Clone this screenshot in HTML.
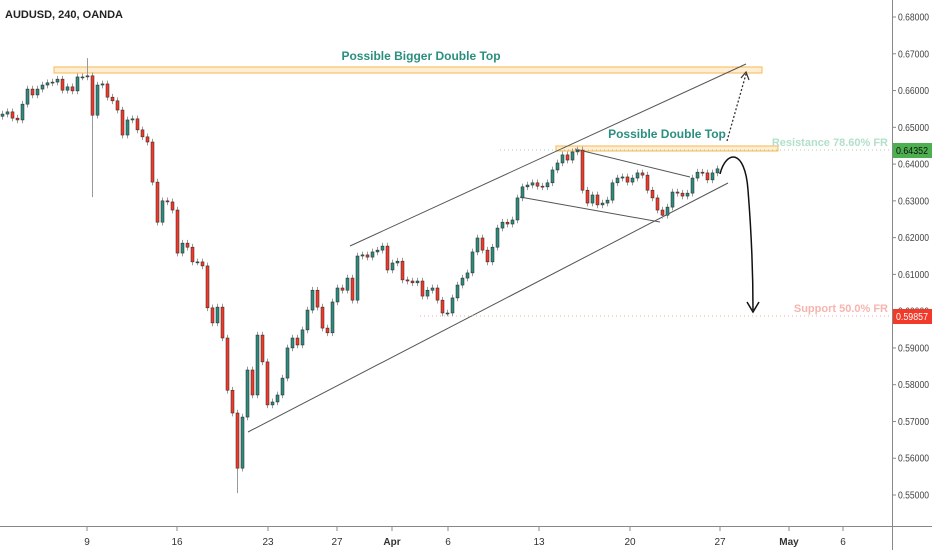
<!DOCTYPE html>
<html><head><meta charset="utf-8"><style>
html,body{margin:0;padding:0;background:#fff;}
svg{display:block;font-family:"Liberation Sans",sans-serif;}
</style></head><body>
<svg id="chart" width="932" height="550" viewBox="0 0 932 550">
<rect x="0" y="0" width="932" height="550" fill="#fff"/>
<text x="5" y="18" font-size="11" font-weight="bold" fill="#222">AUDUSD, 240, OANDA</text>
<g id="yaxis"></g>
<g id="xaxis"></g>
<g id="annot">
  <rect x="54" y="67" width="708" height="6" fill="rgba(255,205,130,0.35)" stroke="#f7b850" stroke-width="1"/>
  <rect x="556" y="146" width="222" height="5" fill="rgba(255,205,130,0.35)" stroke="#f7b850" stroke-width="1"/>
  <text x="421" y="60" font-size="12" font-weight="bold" fill="#2a8f7e" text-anchor="middle">Possible Bigger Double Top</text>
  <text x="667" y="138" font-size="12" font-weight="bold" fill="#2a8f7e" text-anchor="middle">Possible Double Top</text>
  <line x1="350" y1="246" x2="746" y2="64" stroke="#555" stroke-width="1"/>
  <line x1="248" y1="432" x2="728" y2="183" stroke="#555" stroke-width="1"/>
  <line x1="575" y1="149" x2="690" y2="177" stroke="#555" stroke-width="1"/>
  <line x1="520" y1="197" x2="660" y2="222" stroke="#555" stroke-width="1"/>
  <line x1="500" y1="150" x2="892" y2="150" stroke="#9bd6bb" stroke-width="1" stroke-dasharray="1,3"/>
  <text x="888" y="146" font-size="11" font-weight="bold" fill="#b3e0ca" text-anchor="end">Resistance 78.60% FR</text>
  <line x1="420" y1="316" x2="892" y2="316" stroke="#f4a7a0" stroke-width="1" stroke-dasharray="1,3"/>
  <text x="888" y="312" font-size="11" font-weight="bold" fill="#f6b5ae" text-anchor="end">Support 50.0% FR</text>
  <line x1="727" y1="141" x2="746" y2="74" stroke="#333" stroke-width="1.3" stroke-dasharray="2,2"/>
  <path d="M741,78 L746,72 L749,80" fill="none" stroke="#333" stroke-width="1.2"/>
  <path d="M720,174 C726,150 745,148 748,190 C752,240 753,280 753,310" fill="none" stroke="#111" stroke-width="1.5"/>
  <path d="M747,302 L753,312 L759,302" fill="none" stroke="#111" stroke-width="1.5"/>
</g>
<g id="candles"></g>
<g>
  <rect x="893" y="143" width="39" height="15" fill="#4caf50"/>
  <text x="896" y="154" font-size="10" fill="#111" textLength="32" lengthAdjust="spacingAndGlyphs">0.64352</text>
  <rect x="893" y="309" width="39" height="15" fill="#f23a2a"/>
  <text x="896" y="320" font-size="10" fill="#fff" textLength="32" lengthAdjust="spacingAndGlyphs">0.59857</text>
</g>
</svg>
<script>
const closes = [0.6536,0.6542,0.6525,0.6520,0.6563,0.6604,0.6588,0.6604,0.6615,0.6621,0.6623,0.6631,0.6601,0.6610,0.6599,0.6637,0.6637,0.6640,0.6533,0.6615,
0.6618,0.6582,0.6572,0.6547,0.6479,0.6520,0.6523,0.6493,0.6474,0.6460,0.6351,0.6242,0.6300,0.6297,0.6275,0.6158,0.6185,0.6174,0.6134,0.6134,
0.6123,0.6009,0.5968,0.6011,0.5927,0.5785,0.5723,0.5573,0.5712,0.5840,0.5772,0.5935,0.5862,0.5745,0.5753,0.5772,0.5818,0.5900,0.5927,0.5908,
0.5949,0.6003,0.6057,0.6011,0.5954,0.5941,0.6025,0.6063,0.6057,0.6090,0.6030,0.6150,0.6153,0.6147,0.6161,0.6166,0.6177,0.6112,0.6131,0.6136,
0.6085,0.6082,0.6077,0.6082,0.6041,0.6057,0.6063,0.6030,0.5995,0.5995,0.6036,0.6071,0.6090,0.6104,0.6161,0.6199,0.6166,0.6134,0.6174,0.6226,
0.6242,0.6237,0.6248,0.6308,0.6338,0.6343,0.6349,0.6340,0.6338,0.6349,0.6384,0.6403,0.6425,0.6411,0.6433,0.6438,0.6329,0.6294,0.6316,0.6289,
0.6294,0.6302,0.6349,0.6362,0.6365,0.6351,0.6362,0.6376,0.6370,0.6329,0.6308,0.6275,0.6261,0.6283,0.6324,0.6321,0.6313,0.6321,0.6362,0.6378,
0.6376,0.6357,0.6376,0.6387];
const firstOpen = 0.6530;
const longWickIdx = [18, 47];
const longWickLow = [0.6310, 0.5505];
const longWickHighIdx = [17];
const longWickHigh = [0.6688];
const yTicks = [0.68,0.67,0.66,0.65,0.64,0.63,0.62,0.61,0.60,0.59,0.58,0.57,0.56,0.55];
const xTickLabels = ["9","16","23","27","Apr","6","13","20","27","May","6"];
const xTickPos = [87,177,268,337,392,448,539,630,720,789,843];

const NS="http://www.w3.org/2000/svg";
function yScale(p){return 17+(0.68-p)*3677;}
function xScale(i){return 1+i*5;}
function mk(tag,attrs,parent){const e=document.createElementNS(NS,tag);for(const k in attrs)e.setAttribute(k,attrs[k]);parent.appendChild(e);return e;}

const ya=document.getElementById('yaxis');
const al=mk('line',{x1:892.5,y1:0,x2:892.5,y2:550,stroke:'#888','stroke-width':1},ya);


yTicks.forEach(v=>{
  const y=yScale(v);
  const t=mk('line',{x1:892,y1:y,x2:896,y2:y,stroke:'#888'},ya);
  
  
  const tx=mk('text',{x:898,y:y+3.5,'font-size':10,fill:'#444',textLength:31,lengthAdjust:'spacingAndGlyphs'},ya);
  tx.textContent=v.toFixed(5);
  
  
});
const xa=document.getElementById('xaxis');
const bl=mk('line',{x1:0,y1:526.5,x2:932,y2:526.5,stroke:'#888','stroke-width':1},xa);


xTickLabels.forEach((l,i)=>{
  const x=xTickPos[i];
  const t=mk('line',{x1:x,y1:527,x2:x,y2:531,stroke:'#888'},xa);
  
  
  const tx=mk('text',{x:x,y:545,'font-size':10,fill:'#333','text-anchor':'middle','font-weight':(l==='Apr'||l==='May')?'bold':'normal'},xa);
  tx.textContent=l;
  
  
});

const cg=document.getElementById('candles');
const WICK=0.0009;
closes.forEach((c,i)=>{
  const o=i===0?firstOpen:closes[i-1];
  let hi=Math.max(o,c)+WICK, lo=Math.min(o,c)-WICK;
  const li=longWickIdx.indexOf(i); if(li>=0) lo=longWickLow[li];
  const hiI=longWickHighIdx.indexOf(i); if(hiI>=0) hi=longWickHigh[hiI];
  const x=xScale(i);
  const up=c>=o;
  const w=mk('line',{x1:x+1.5,y1:yScale(hi),x2:x+1.5,y2:yScale(lo),stroke:'#999','stroke-width':1},cg);
  
  
  const top=yScale(Math.max(o,c)), h=Math.max(1,yScale(Math.min(o,c))-top);
  const b=mk('rect',{x:x,y:top,width:3,height:h,fill:up?'#2e8b7d':'#f23a2a',stroke:'#222','stroke-width':0.5},cg);
  
  
});
</script>
</body></html>
